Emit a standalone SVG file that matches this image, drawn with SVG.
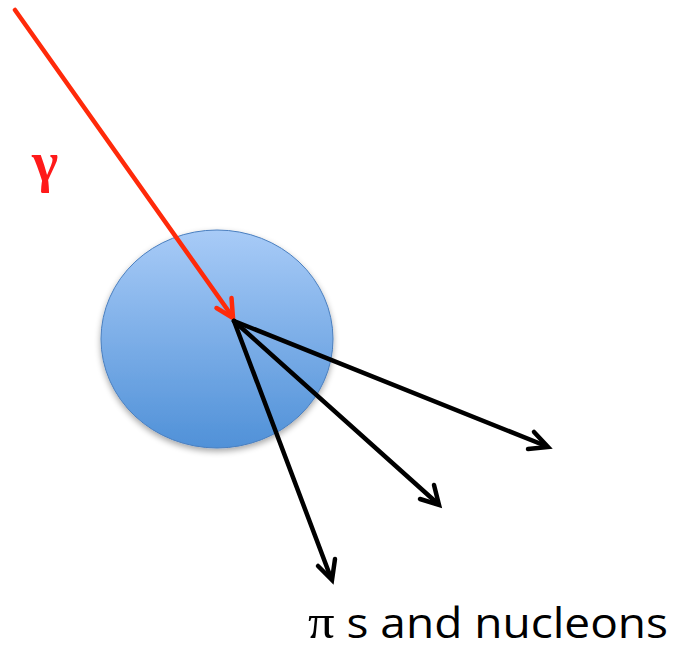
<svg xmlns="http://www.w3.org/2000/svg" width="675" height="650" viewBox="0 0 675 650">
<style>
.out{stroke:#000;stroke-width:4.5;fill:none;stroke-linecap:round}
.head{stroke:#000;stroke-width:4.5;fill:none;stroke-linecap:round;stroke-linejoin:miter}
</style>
<defs>
<linearGradient id="g" x1="0" y1="0" x2="0" y2="1">
<stop offset="0" stop-color="#a8cbf7"/>
<stop offset="1" stop-color="#5091d8"/>
</linearGradient>
<filter id="sh" x="-20%" y="-20%" width="140%" height="140%">
<feGaussianBlur in="SourceAlpha" stdDeviation="3"/>
<feOffset dx="0" dy="3"/>
<feComponentTransfer><feFuncA type="linear" slope="0.35"/></feComponentTransfer>
<feMerge><feMergeNode/><feMergeNode in="SourceGraphic"/></feMerge>
</filter>
</defs>
<rect width="675" height="650" fill="#fff"/>
<g id="nucleus">
<ellipse cx="217" cy="339" rx="116" ry="109" fill="url(#g)" stroke="#4a7fbf" stroke-width="1" filter="url(#sh)"/>
</g>
<g id="connectors">
<line x1="15" y1="10" x2="232" y2="316" stroke="#ff2a0a" stroke-width="4.5" stroke-linecap="round"/>
<polyline points="216.5,308 233,318 231.5,298" fill="none" stroke="#ff2a0a" stroke-width="4.5" stroke-linecap="round"/>
<line class="out" x1="234" y1="321" x2="546" y2="446"/>
<line class="out" x1="234" y1="321" x2="437" y2="503"/>
<line class="out" x1="234" y1="321" x2="331" y2="578"/>
<polyline class="head" points="534,432 548,447 528,449"/>
<polyline class="head" points="420,499 439,505 434,485"/>
<polyline class="head" points="318,566 332,580 335,559"/>
</g>
<g id="labels">
<text x="32" y="181" font-family="Liberation Serif, serif" font-size="56" font-weight="bold" fill="#ff1a1a">γ</text>
<text x="308" y="638" font-family="Open Sans, Liberation Sans, sans-serif" font-size="42" fill="#000" textLength="360" lengthAdjust="spacingAndGlyphs"><tspan font-family="Liberation Serif, serif" font-size="48">π</tspan> s and nucleons</text>
</g>
</svg>
